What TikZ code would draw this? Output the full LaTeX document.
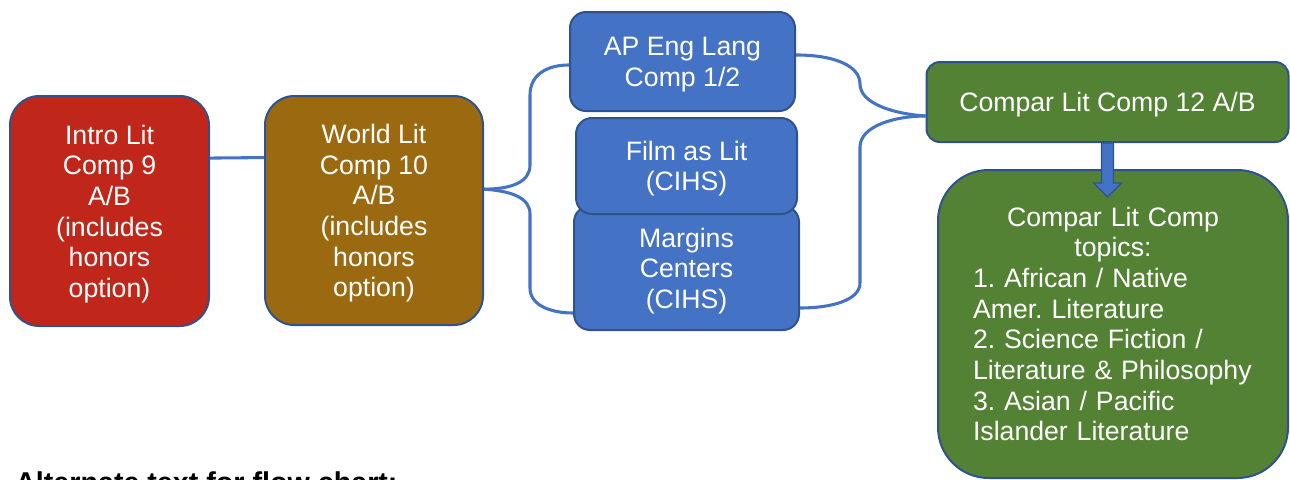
\documentclass[tikz,border=0pt]{standalone}
\usepackage{fontspec}
\setmainfont{Liberation Sans}
\definecolor{introred}{HTML}{C0261A}
\definecolor{worldbrown}{HTML}{9B6A10}
\definecolor{apblue}{HTML}{4472C4}
\definecolor{edgeblue}{HTML}{2F528F}
\definecolor{litgreen}{HTML}{548235}
\newcommand\coursefont{\fontsize{20}{23}\selectfont\frenchspacing\hyphenpenalty10000\relax}
\tikzset{
  course/.style={draw=edgeblue, line width=1.5pt, text=white, align=center,
    inner sep=0pt, text depth=0pt, font=\coursefont},
  conn/.style={draw=apblue, line width=2.3pt},
  blockarrow/.style={fill=apblue, draw=edgeblue, line width=1pt, line join=miter},
}
\begin{document}
\begin{tikzpicture}[x=0.75pt, y=-0.75pt]
\useasboundingbox (0,0) rectangle (1290,479);
\clip (0,0) rectangle (1290,479);

% first two courses
\node[course, fill=introred, rounded corners=22pt,
      minimum width=149.25pt, minimum height=172.5pt] (intro) at (109.5,211)
  {Intro Lit\\Comp 9\\A/B\\(includes\\honors\\option)};
\node[course, fill=worldbrown, rounded corners=22pt,
      minimum width=163.5pt, minimum height=171.75pt] (world) at (374,210.5)
  {World Lit\\Comp 10\\A/B\\(includes\\honors\\option)};

% third-year options
\node[course, fill=apblue, rounded corners=12pt,
      minimum width=168.75pt, minimum height=74.25pt] (ap) at (682.5,61.5)
  {AP Eng Lang\\Comp 1/2};
\node[course, fill=apblue, rounded corners=12pt,
      minimum width=168.75pt, minimum height=93pt] (margins) at (686.5,268)
  {Margins\\Centers\\(CIHS)};
\node[course, fill=apblue, rounded corners=12pt,
      minimum width=165.75pt, minimum height=72pt] (film) at (686.5,166)
  {Film as Lit\\(CIHS)};

% senior year
\node[course, fill=litgreen, rounded corners=10pt,
      minimum width=271.5pt, minimum height=60pt] (compar) at (1107.5,102)
  {Compar Lit Comp 12 A/B};
\node[course, fill=litgreen, rounded corners=38pt, align=left, text width=210pt,
      text depth=, minimum width=262.5pt, minimum height=231pt] (topics) at (1113,324)
  {\makebox[\linewidth]{Compar Lit Comp}\\
   \makebox[\linewidth]{topics:}\\
   1. African / Native\\
   Amer. Literature\\
   2. Science Fiction /\\
   Literature \& Philosophy\\
   3. Asian / Pacific\\
   Islander Literature};

% connectors
\draw[conn] ([yshift=39.7pt]intro.east) -- ([yshift=39.7pt]world.west);

\draw[conn] ([yshift=16pt]world.east)
  .. controls (512,189) and (530,182) .. (530,165) -- (530,95)
  .. controls (530,74) and (548,65) .. ([yshift=-2.6pt]ap.west);
\draw[conn] ([yshift=16pt]world.east)
  .. controls (512,191) and (530,198) .. (530,214) -- (530,288)
  .. controls (530,306) and (552,313) .. ([yshift=-33.75pt]margins.west);

\draw[conn] ([yshift=4.9pt]ap.east)
  .. controls (835,55) and (860,66) .. (860,84)
  .. controls (860,104) and (895,114) .. ([yshift=-10.5pt]compar.west);
\draw[conn] ([yshift=-10.5pt]compar.west)
  .. controls (895,116) and (860,126) .. (860,147) -- (860,283)
  .. controls (860,300) and (832,308) .. ([yshift=-30pt]margins.east);

% block arrow between the senior boxes
\draw[blockarrow] ([xshift=-4.5pt]compar.south) -- ++(0,40) -- ++(-8,0)
  -- ++(14,14) -- ++(14,-14) -- ++(-8,0) -- ++(0,-40) -- cycle;

\node[anchor=base west, inner sep=0pt,
      font=\bfseries\fontsize{21.5}{26}\selectfont] (alt) at (15,492)
  {Alternate text for flow chart:};
\end{tikzpicture}
\end{document}
